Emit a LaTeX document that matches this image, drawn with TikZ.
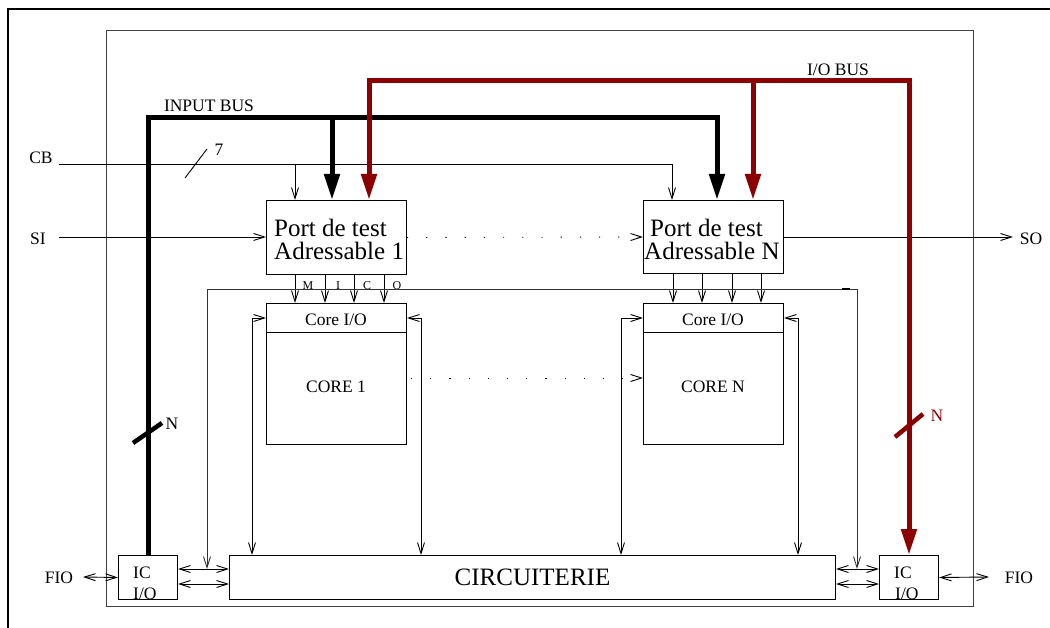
\documentclass[tikz,border=0pt]{standalone}
\usepackage{fontspec}
\setmainfont{Liberation Serif}
\usetikzlibrary{arrows.meta,calc}
\definecolor{busred}{RGB}{139,0,0}
\begin{document}
\begin{tikzpicture}[x=1pt,y=-1pt,
  thinl/.style={line width=0.9pt},
  ar/.style={thinl,-{Straight Barb[length=11pt,width=7pt]}},
  dar/.style={thinl,{Straight Barb[length=11pt,width=7pt]}-{Straight Barb[length=11pt,width=7pt]}},
  dots/.style={thinl,dash pattern=on 1.2pt off 18pt},
  bus/.style={line width=5pt},
  busar/.style={bus,-{Triangle[length=26pt,width=15pt]}},
  busdar/.style={bus,{Triangle[length=26pt,width=15pt]}-{Triangle[length=26pt,width=15pt]}},
  box/.style={draw,line width=1pt,inner sep=0pt,anchor=north west},
  lbl/.style={font=\fontsize{17.5}{18}\selectfont,inner sep=0pt},
  big/.style={font=\fontsize{25}{23}\selectfont,inner sep=0pt},
  tiny/.style={font=\fontsize{12}{12}\selectfont,inner sep=0pt}
]
\useasboundingbox (0,0) rectangle (1050,628);
\begin{scope}
\clip (0,0) rectangle (1050,628);
\draw[line width=1.6pt] (8,660) -- (8,9) -- (1080,9);
\end{scope}

% chip frame
\node[draw,line width=1pt,black!75,minimum width=867pt,minimum height=576pt,anchor=north west] (chip) at (106,30) {};

% boxes
\node[box,minimum width=140pt,minimum height=74pt] (p1) at (266,200) {};
\node[box,minimum width=140pt,minimum height=73pt] (pN) at (643,200) {};
\node[big,anchor=base west] (p1a) at (274,237) {Port de test};
\node[big,anchor=base west] (p1b) at (274,260) {Adressable 1};
\node[big,anchor=base west] (pNa) at (650,237) {Port de test};
\node[big,anchor=base west] (pNb) at (644,260) {Adressable N};

\node[box,minimum width=140pt,minimum height=141pt] (c1) at (266,303) {};
\node[box,minimum width=140pt,minimum height=141pt] (cN) at (643,303) {};
\draw[line width=1pt] ($(c1.north west)+(0,30)$) -- ($(c1.north east)+(0,30)$);
\draw[line width=1pt] ($(cN.north west)+(0,30)$) -- ($(cN.north east)+(0,30)$);
\node[lbl] (c1io) at (336,320) {Core I/O};
\node[lbl] (c1t) at (336,387) {CORE 1};
\node[lbl] (cNio) at (713,320) {Core I/O};
\node[lbl] (cNt) at (713,387) {CORE N};

\node[box,minimum width=606pt,minimum height=44pt,font=\fontsize{25}{25}\selectfont] (circ) at (229,555) {CIRCUITERIE};
\node[box,minimum width=59pt,minimum height=44pt] (icl) at (118,555) {};
\node[box,minimum width=59pt,minimum height=44pt] (icr) at (879,555) {};
\node[lbl,anchor=base west] (icl1) at (133,578) {IC};
\node[lbl,anchor=base west] (icl2) at (133,599) {I/O};
\node[lbl,anchor=base west] (icr1) at (894,578) {IC};
\node[lbl,anchor=base west] (icr2) at (895,599) {I/O};

% labels
\node[lbl] (cb) at (41,158) {CB};
\node[lbl] (si) at (38,239) {SI};
\node[lbl] (so) at (1031,239) {SO};
\node[lbl] (fiol) at (59,578) {FIO};
\node[lbl] (fior) at (1019,578) {FIO};
\node[lbl] (ibl) at (209,106) {INPUT BUS};
\node[lbl] (obl) at (838,70) {I/O BUS};
\node[lbl] (seven) at (219,150) {7};
\node[lbl] (nb) at (172,424) {N};
\node[lbl,text=busred] (nr) at (937,416) {N};

% CB
\coordinate (cbL) at (59,164);
\coordinate (cbR) at (672,164);
\coordinate (cb1) at (295,164);
\draw[thinl] (cbL) -- (cbR);
\draw[ar] (cbR) -- (cbR |- pN.north);
\draw[ar] (cb1) -- (cb1 |- p1.north);
\draw[thinl] (185,178) -- (207,149);

% SI / SO
\coordinate (siL) at (59,237);
\coordinate (soR) at (1013,237);
\draw[ar] (siL) -- (siL -| p1.west);
\draw[ar] (pN.east) -- (soR);
\draw[dots,ar] (p1.east) -- (pN.west);

% input bus
\coordinate (ib0) at (148,118);
\coordinate (ib1) at (332,118);
\coordinate (ib2) at (717,118);
\draw[busar] (icl.north) -- (icl.north |- ib0) -| (ib2 |- pN.north);
\draw[busar] (ib1) -- (ib1 |- p1.north);
\draw[line width=4.5pt] (133,443) -- (162,423);

% I/O bus
\begin{scope}[busred]
\coordinate (ob0) at (369,81);
\coordinate (ob1) at (753,81);
\coordinate (ob2) at (909,81);
\draw[busdar] (ob0 |- p1.north) -- (ob0) -- (ob2 |- ob0) -- (icr.north);
\draw[busar] (ob1) -- (ob1 |- pN.north);
\draw[line width=4.5pt] (895,437) -- (923,414);
\end{scope}

% M I C O
\foreach \dx/\l in {29/M,59/I,88/C,118/O}{
  \draw[ar] ($(p1.south west)+(\dx,0)$) -- ($(c1.north west)+(\dx,0)$);
  \node[tiny] (lab\l) at ($(p1.south west)+(\dx+13,11)$) {\l};
}
\foreach \dx in {30,59,89,118}{
  \draw[ar] ($(pN.south west)+(\dx,0)$) -- ($(cN.north west)+(\dx,0)$);
}

% control line
\coordinate (hl) at (207,289);
\coordinate (hr) at (857,289);
\coordinate (dA) at (0,569);
\coordinate (dB) at (0,584);
\draw[dar,black!80] (hl |- dA) -- (hl) -- (hr) -- (hr |- dA);
\draw[line width=2.2pt] (842,289) -- (850,289);

% core side links
\coordinate (s1) at (252,318);
\coordinate (s2) at (421,318);
\coordinate (s3) at (621,318);
\coordinate (s4) at (798,318);
\draw[dar] (s1 |- circ.north) -- (s1) -- (s1 -| c1.west);
\draw[dar] (s2 |- circ.north) -- (s2) -- (s2 -| c1.east);
\draw[dar] (s3 |- circ.north) -- (s3) -- (s3 -| cN.west);
\draw[dar] (s4 |- circ.north) -- (s4) -- (s4 -| cN.east);
\coordinate (dc) at (0,378);
\draw[dots,ar] ($(c1.east |- dc)+(4,0)$) -- (cN.west |- dc);

% IC <-> circuiterie
\draw[dar] (icl.east |- dA) -- (circ.west |- dA);
\draw[dar] (icl.east |- dB) -- (circ.west |- dB);
\draw[dar] (circ.east |- dA) -- (icr.west |- dA);
\draw[dar] (circ.east |- dB) -- (icr.west |- dB);

% FIO
\coordinate (fa) at (83,577);
\coordinate (fb) at (989,577);
\draw[dar] (fa) -- (icl.west);
\draw[dar] (icr.east) -- (fb);
\end{tikzpicture}
\end{document}
